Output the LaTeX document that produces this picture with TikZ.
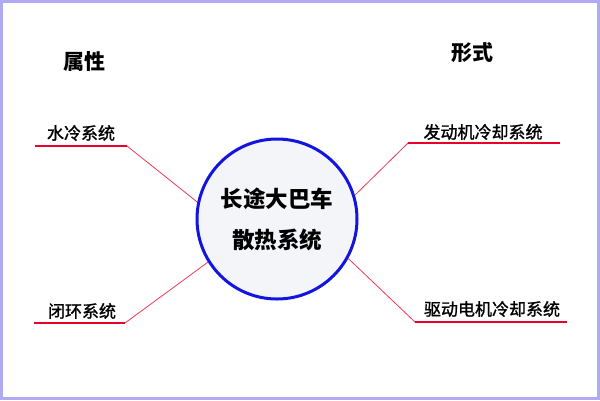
\documentclass[tikz,border=0pt]{standalone}
\usepackage{fontspec}
\setmainfont{Noto Sans CJK SC}
\newfontfamily\cjk{Noto Sans CJK SC}
\newfontfamily\cjkm[FakeBold=1.3]{Noto Sans CJK SC}
\definecolor{frame}{HTML}{B0AAF4}
\definecolor{uline}{HTML}{E8002A}
\definecolor{pinkred}{HTML}{F03A55}
\definecolor{ring}{HTML}{1414E0}
\definecolor{disc}{HTML}{F4F5F8}
\tikzset{
  lbl/.style={inner sep=0pt, font=\cjkm\fontsize{17}{17}\selectfont},
  head/.style={inner sep=0pt, font=\cjk\bfseries\fontsize{21}{21}\selectfont},
  ul/.style={draw=uline, line width=2pt},
  conn/.style={draw=pinkred, line width=0.8pt},
  hub/.style={circle, draw=ring, fill=disc, line width=3pt, minimum size=160pt, inner sep=0pt, align=center, font=\cjk\bfseries\fontsize{22.5}{41}\selectfont}
}
\begin{document}
\begin{tikzpicture}[x=1pt,y=-1pt]
\useasboundingbox (0,0) rectangle (600,400);
\fill[frame] (0,0) rectangle (600,400);
\fill[white] (3,3) rectangle (597,397);
% headings
\node[head] (h1) at (84,62) {属性};
\node[head] (h2) at (472,53) {形式};
% underline coordinates
\coordinate (a1) at (35,146); \coordinate (a2) at (127,146);
\coordinate (b1) at (34,323); \coordinate (b2) at (125,323);
\coordinate (c1) at (408,143); \coordinate (c2) at (560,143);
\coordinate (d1) at (415,322); \coordinate (d2) at (567,322);
% hub
\node[hub] (hub) at (277,219) {长途大巴车\\散热系统};
% connectors
\draw[conn] (a2) -- (hub.168);
\draw[conn] (b2) -- (hub.212);
\draw[conn] (c1) -- (hub.17);
\draw[conn] (d1) -- (hub.331);
\draw[ul] (a1) -- (a2);
\draw[ul] (b1) -- (b2);
\draw[ul] (c1) -- (c2);
\draw[ul] (d1) -- (d2);
% labels
\node[lbl] (l1) at (81,133) {水冷系统};
\node[lbl] (l2) at (82,311) {闭环系统};
\node[lbl] (l3) at (483,132) {发动机冷却系统};
\node[lbl] (l4) at (492,309) {驱动电机冷却系统};
\end{tikzpicture}
\end{document}
